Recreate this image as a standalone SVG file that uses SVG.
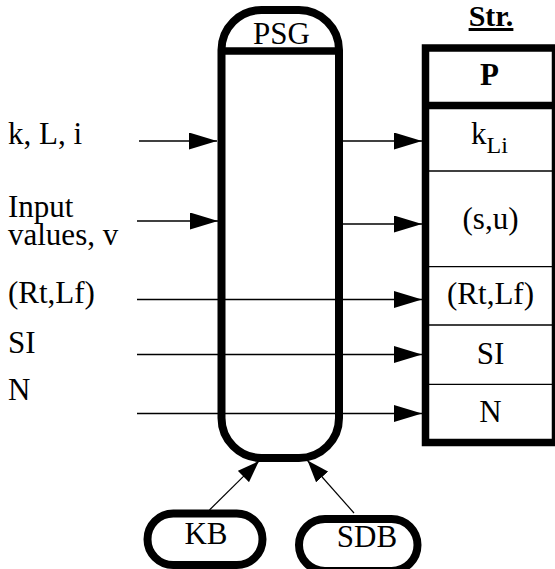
<svg xmlns="http://www.w3.org/2000/svg" width="555" height="569" viewBox="0 0 555 569">
<style>
.thick{fill:none;stroke:#000;stroke-width:8}
.sep{stroke:#000;stroke-width:1.3}
.conn{stroke:#000;stroke-width:1.6;fill:none}
.conn2{stroke:#000;stroke-width:1.2;fill:none}
</style>
<defs>
<marker id="ah" viewBox="0 0 28 17" refX="28" refY="8.5" markerWidth="28" markerHeight="17" markerUnits="userSpaceOnUse" orient="auto">
<path d="M0,0 L28,8.5 L0,17 z" fill="#000"/>
</marker>
<marker id="ah2" viewBox="0 0 22 16" refX="22" refY="8" markerWidth="22" markerHeight="16" markerUnits="userSpaceOnUse" orient="auto">
<path d="M0,0 L22,8 L0,16 z" fill="#000"/>
</marker>
</defs>
<g id="labels">
<text x="8" y="144" font-family="Liberation Serif" font-size="31">k, L, i</text>
<text x="8" y="217" font-family="Liberation Serif" font-size="31">Input</text>
<text x="8" y="245" font-family="Liberation Serif" font-size="31">values, v</text>
<text x="8" y="303" font-family="Liberation Serif" font-size="31">(Rt,Lf)</text>
<text x="8" y="353" font-family="Liberation Serif" font-size="31">SI</text>
<text x="8" y="400" font-family="Liberation Serif" font-size="31">N</text>
</g>
<g id="PSG">
<rect class="thick" x="221.5" y="10" width="117.5" height="448" rx="40" ry="40"/>
<line x1="221.5" y1="51" x2="339" y2="51" stroke="#000" stroke-width="7.5"/>
<text x="281.5" y="44" text-anchor="middle" font-family="Liberation Serif" font-size="31">PSG</text>
</g>
<g id="Str">
<text x="491" y="26" text-anchor="middle" font-weight="bold" text-decoration="underline" font-family="Liberation Serif" font-size="30">Str.</text>
<rect x="425.5" y="48" width="130" height="394.5" fill="none" stroke="#000" stroke-width="7.5"/>
<line x1="425.5" y1="105.5" x2="555.5" y2="105.5" stroke="#000" stroke-width="7.5"/>
<line class="sep" x1="429" y1="171" x2="552" y2="171"/>
<line class="sep" x1="429" y1="266.7" x2="552" y2="266.7"/>
<line class="sep" x1="429" y1="325" x2="552" y2="325"/>
<line class="sep" x1="429" y1="384.3" x2="552" y2="384.3"/>
<text x="489.5" y="85" text-anchor="middle" font-weight="bold" font-family="Liberation Serif" font-size="31">P</text>
<text x="471" y="144" font-family="Liberation Serif" font-size="31">k<tspan font-family="Liberation Serif" font-size="24" dy="8.7">Li</tspan></text>
<text x="490.5" y="228.5" text-anchor="middle" font-family="Liberation Serif" font-size="31">(s,u)</text>
<text x="490.5" y="304" text-anchor="middle" font-family="Liberation Serif" font-size="31">(Rt,Lf)</text>
<text x="490.5" y="363.5" text-anchor="middle" font-family="Liberation Serif" font-size="31">SI</text>
<text x="490.5" y="422" text-anchor="middle" font-family="Liberation Serif" font-size="31">N</text>
</g>
<g id="KB">
<rect class="thick" x="147.5" y="513.5" width="115" height="51.5" rx="25.75" ry="25.75" stroke-width="7.5"/>
<text x="206" y="543.5" text-anchor="middle" font-family="Liberation Serif" font-size="31">KB</text>
</g>
<g id="SDB">
<rect class="thick" x="299" y="519" width="118.5" height="52" rx="26" ry="26" stroke-width="7.5"/>
<text x="367" y="547" text-anchor="middle" font-family="Liberation Serif" font-size="31">SDB</text>
</g>
<g id="connectors">
<line class="conn" x1="139" y1="141" x2="217" y2="141" marker-end="url(#ah)"/>
<line class="conn" x1="137" y1="221" x2="218" y2="221" marker-end="url(#ah)"/>
<line class="conn" x1="343" y1="141" x2="422" y2="141" marker-end="url(#ah)"/>
<line class="conn" x1="343" y1="224" x2="422" y2="224" marker-end="url(#ah)"/>
<line class="conn" x1="137" y1="299.5" x2="422" y2="299.5" marker-end="url(#ah)"/>
<line class="conn" x1="137" y1="354.5" x2="422" y2="354.5" marker-end="url(#ah)"/>
<line class="conn" x1="137" y1="413.5" x2="422" y2="413.5" marker-end="url(#ah)"/>
<line class="conn2" x1="209.5" y1="510" x2="259" y2="461" marker-end="url(#ah2)"/>
<line class="conn2" x1="354" y1="513" x2="307.5" y2="460.5" marker-end="url(#ah2)"/>
</g>
</svg>
